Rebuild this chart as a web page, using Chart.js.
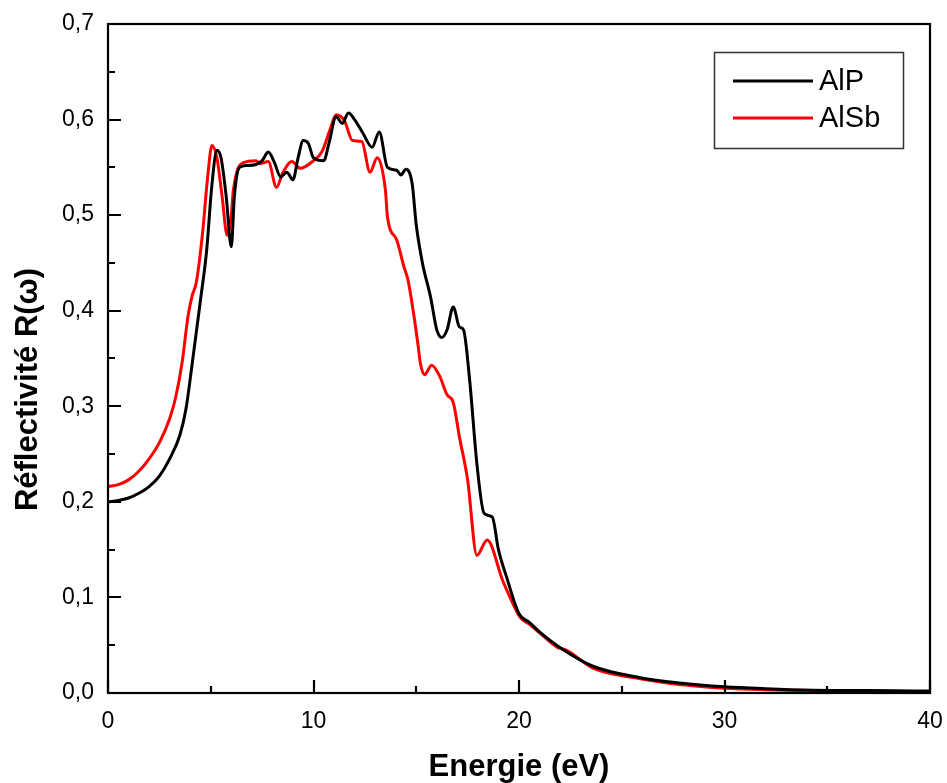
<!DOCTYPE html>
<html>
<head>
<meta charset="utf-8">
<script src="https://cdn.jsdelivr.net/npm/chart.js@4.4.1/dist/chart.umd.min.js"></script>
<style>
  html, body { margin: 0; padding: 0; background: #ffffff; }
  #wrap { width: 947px; height: 783px; position: relative; }
</style>
</head>
<body>
<div id="wrap"><canvas id="c" width="947" height="783"></canvas></div>
<script>
// ---- data ----
const seriesNames = ["AlP", "AlSb"];
const xTickLabels = ["0", "10", "20", "30", "40"];
const yTickLabels = ["0,0", "0,1", "0,2", "0,3", "0,4", "0,5", "0,6", "0,7"];

const alpEnergy = [0, 0.5, 1.0, 1.5, 2.0, 2.5, 3.0, 3.5, 3.8, 4.1, 4.5, 4.8, 5.05, 5.3, 5.5, 5.75, 6.0, 6.15, 6.4, 6.75, 7.2, 7.5, 7.8, 8.1, 8.4, 8.7, 9.0, 9.25, 9.5, 9.75, 10.0, 10.5, 10.75, 11.1, 11.4, 11.7, 12.0, 12.4, 12.85, 13.2, 13.6, 14.05, 14.25, 14.5, 14.8, 15.0, 15.3, 15.7, 16.0, 16.25, 16.5, 16.8, 17.1, 17.3, 17.6, 17.95, 18.3, 18.7, 19.0, 19.4, 20.0, 20.5, 21.0, 22.1, 23.6, 25.9, 27.8, 30, 32, 34.3, 37, 40];
const alpR =      [0.200, 0.2015, 0.204, 0.209, 0.216, 0.227, 0.245, 0.270, 0.298, 0.345, 0.411, 0.463, 0.530, 0.568, 0.560, 0.520, 0.467, 0.520, 0.550, 0.552, 0.553, 0.557, 0.566, 0.555, 0.540, 0.545, 0.537, 0.560, 0.578, 0.575, 0.560, 0.557, 0.575, 0.603, 0.596, 0.607, 0.600, 0.586, 0.571, 0.587, 0.550, 0.547, 0.542, 0.548, 0.533, 0.490, 0.450, 0.414, 0.380, 0.372, 0.380, 0.404, 0.383, 0.380, 0.327, 0.240, 0.188, 0.184, 0.150, 0.121, 0.083, 0.074, 0.064, 0.046, 0.028, 0.016, 0.0105, 0.0065, 0.0045, 0.003, 0.0025, 0.002];

const alsbEnergy = [0, 0.5, 1.0, 1.5, 2.0, 2.5, 3.0, 3.3, 3.6, 3.9, 4.1, 4.3, 4.6, 4.85, 5.06, 5.3, 5.55, 5.8, 6.0, 6.1, 6.6, 7.2, 7.4, 7.8, 8.2, 8.5, 8.95, 9.35, 10.0, 10.4, 10.8, 11.1, 11.5, 11.9, 12.35, 12.75, 13.1, 13.5, 13.6, 14.05, 14.4, 14.6, 14.85, 15.1, 15.2, 15.4, 15.75, 16.15, 16.5, 16.8, 17.1, 17.5, 17.95, 18.45, 19.2, 19.4, 20.05, 20.5, 21.0, 21.85, 22.3, 23.6, 25.9, 27.8, 30, 32, 35, 37, 40];
const alsbR =      [0.216, 0.218, 0.223, 0.232, 0.245, 0.262, 0.287, 0.310, 0.345, 0.395, 0.416, 0.430, 0.481, 0.540, 0.573, 0.560, 0.520, 0.479, 0.500, 0.526, 0.555, 0.557, 0.554, 0.556, 0.529, 0.544, 0.556, 0.549, 0.557, 0.566, 0.589, 0.605, 0.599, 0.578, 0.577, 0.545, 0.560, 0.526, 0.498, 0.474, 0.446, 0.432, 0.400, 0.362, 0.345, 0.333, 0.343, 0.331, 0.312, 0.304, 0.268, 0.223, 0.144, 0.160, 0.118, 0.108, 0.0795, 0.072, 0.063, 0.048, 0.045, 0.026, 0.015, 0.009, 0.005, 0.0035, 0.0025, 0.002, 0.0015];

const seriesColors = ["#000000", "#ff0000"];

function toPoints(xs, ys) { return xs.map((x, i) => ({ x: x, y: ys[i] })); }

// frame + inward ticks
const framePlugin = {
  id: 'frame',
  afterDatasetsDraw(chart) {
    const ctx = chart.ctx;
    const a = chart.chartArea;
    const xs = chart.scales.x, ys = chart.scales.y;
    ctx.save();
    ctx.strokeStyle = '#000';
    ctx.lineWidth = 2.2;
    ctx.strokeRect(a.left, a.top, a.right - a.left, a.bottom - a.top);
    ctx.beginPath();
    for (let v = 0; v <= 40.001; v += 5) {
      const px = Math.round(xs.getPixelForValue(v));
      const len = (Math.round(v) % 10 === 0) ? 13 : 7;
      ctx.moveTo(px, a.bottom);
      ctx.lineTo(px, a.bottom - len);
    }
    for (let k = 0; k <= 14; k++) {
      const v = k * 0.05;
      const py = Math.round(ys.getPixelForValue(v));
      const len = (k % 2 === 0) ? 13 : 7;
      ctx.moveTo(a.left, py);
      ctx.lineTo(a.left + len, py);
    }
    ctx.stroke();
    ctx.restore();
  }
};

// boxed legend in the top right
const boxLegend = {
  id: 'boxLegend',
  afterDraw(chart) {
    const ctx = chart.ctx;
    ctx.save();
    ctx.strokeStyle = '#333';
    ctx.lineWidth = 1.5;
    ctx.strokeRect(714.5, 52.5, 189, 96);
    ctx.font = '29px "Liberation Sans", Arial, sans-serif';
    ctx.textBaseline = 'middle';
    ctx.textAlign = 'left';
    const rows = [81, 118];
    chart.data.datasets.forEach((ds, i) => {
      ctx.strokeStyle = ds.borderColor;
      ctx.lineWidth = 3;
      ctx.beginPath();
      ctx.moveTo(733, rows[i]);
      ctx.lineTo(813, rows[i]);
      ctx.stroke();
      ctx.fillStyle = '#000';
      ctx.fillText(ds.label, 819, rows[i] + 1);
    });
    ctx.restore();
  }
};

new Chart(document.getElementById('c'), {
  type: 'line',
  data: {
    datasets: [
      { label: seriesNames[0], data: toPoints(alpEnergy, alpR), borderColor: seriesColors[0], backgroundColor: seriesColors[0], borderWidth: 3, pointRadius: 0, cubicInterpolationMode: 'monotone', fill: false },
      { label: seriesNames[1], data: toPoints(alsbEnergy, alsbR), borderColor: seriesColors[1], backgroundColor: seriesColors[1], borderWidth: 3, pointRadius: 0, cubicInterpolationMode: 'monotone', fill: false }
    ]
  },
  options: {
    responsive: false,
    animation: false,
    layout: { padding: { left: 0, right: 17, top: 24, bottom: 0 } },
    plugins: { legend: { display: false }, tooltip: { enabled: false } },
    scales: {
      x: {
        type: 'linear', min: 0, max: 40,
        grid: { display: false, drawTicks: false },
        border: { display: false },
        ticks: {
          stepSize: 10, padding: 15, color: '#000', maxRotation: 0,
          font: { family: '"Liberation Sans", Arial, sans-serif', size: 23 },
          callback: (v) => { const i = xTickLabels.indexOf(String(v)); return i >= 0 ? xTickLabels[i] : ''; }
        },
        title: { display: true, text: 'Energie (eV)', color: '#000', padding: { top: 0, bottom: 0 },
          font: { family: '"Liberation Sans", Arial, sans-serif', size: 31, weight: 'bold', lineHeight: 1 } },
        afterFit: (s) => { s.height = 90; s.paddingLeft = 0; s.paddingRight = 0; }
      },
      y: {
        type: 'linear', min: 0, max: 0.7,
        grid: { display: false, drawTicks: false },
        border: { display: false },
        ticks: {
          stepSize: 0.1, padding: 14, color: '#000',
          font: { family: '"Liberation Sans", Arial, sans-serif', size: 23 },
          callback: (v) => { const i = Math.round(v * 10); return yTickLabels[i] !== undefined ? yTickLabels[i] : ''; }
        },
        title: { display: true, text: 'Réflectivité R(ω)\u2003\u2003', color: '#000', padding: { top: 13, bottom: 0 },
          font: { family: '"Liberation Sans", Arial, sans-serif', size: 31, weight: 'bold', lineHeight: 1 } },
        afterFit: (s) => { s.width = 108; s.paddingTop = 0; s.paddingBottom = 0; }
      }
    }
  },
  plugins: [framePlugin, boxLegend]
});
</script>
</body>
</html>
